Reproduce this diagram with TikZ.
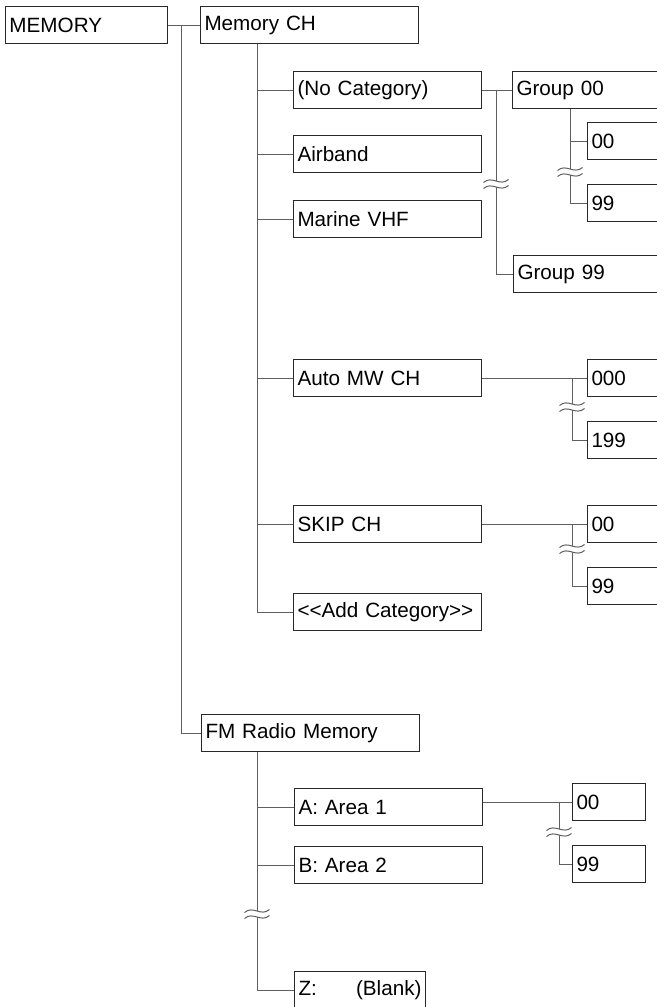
\documentclass[tikz,border=0pt]{standalone}
\usepackage{fontspec}
\setmainfont{Liberation Sans}
\usepackage{xcolor}
\usepackage{tikz}

\definecolor{boxline}{RGB}{40,40,40}
\definecolor{wireline}{RGB}{95,95,95}

% break mark on a vertical line
\newcommand{\cutmark}[1]{%
  \begin{scope}[shift={#1}]
    \fill[white] (-12.5,-1.5) .. controls (-4,-9) and (4,3) .. (12.5,-4.5) -- (12.5,1.5) .. controls (4,9) and (-4,-3) .. (-12.5,4.5) -- cycle;
    \draw[wire] (-12.5,-1.5) .. controls (-4,-9) and (4,3) .. (12.5,-4.5);
    \draw[wire] (-12.5,4.5) .. controls (-4,-3) and (4,9) .. (12.5,1.5);
  \end{scope}}

\begin{document}
\begin{tikzpicture}[x=0.75pt,y=0.75pt,yscale=-1,xscale=1,
    menubox/.style={draw=boxline, line width=0.75pt, anchor=north west, minimum height=27.75pt,
      inner xsep=3pt, inner ysep=0pt, align=left, font=\fontsize{15.5}{18}\selectfont},
    rootbox/.style={menubox, text width=115.5pt},
    headbox/.style={menubox, text width=157.5pt},
    catbox/.style={menubox, text width=135pt},
    grpbox/.style={menubox, text width=129pt},
    chbox/.style={menubox, text width=69pt},
    smallbox/.style={menubox, text width=48.75pt},
    blankbox/.style={menubox, text width=92.25pt},
    wire/.style={draw=wireline, line width=0.75pt}]
\useasboundingbox (0,0) rectangle (657,1007);
\clip (0,0) rectangle (657,1007);

% Text Node
\node[rootbox] (memory) at (5,6) {MEMORY};
\node[headbox] (memch) at (200,6) {Memory CH};
% Text Node
\node[catbox] (nocat) at (293,71) {(No Category)};
\node[catbox] (airband) at (293,135) {Airband};
\node[catbox] (marine) at (293,200) {Marine VHF};
\node[catbox] (automw) at (293,359) {Auto MW CH};
\node[catbox] (skip) at (293,505) {SKIP CH};
\node[catbox] (addcat) at (293,593) {<{}<Add Category>{}>};
% Text Node
\node[grpbox] (grp00) at (512,71) {Group 00};
\node[grpbox] (grp99) at (513,255) {Group 99};
\node[chbox] (g00) at (587,122) {00};
\node[chbox] (g99) at (587,184) {99};
\node[chbox] (mw000) at (587,359) {000};
\node[chbox] (mw199) at (587,421) {199};
\node[chbox] (sk00) at (587,505) {00};
\node[chbox] (sk99) at (587,567) {99};
% Text Node
\node[headbox] (fmradio) at (201,714) {FM Radio Memory};
\node[catbox] (areaa) at (294,788) {A: Area 1};
\node[catbox] (areab) at (294,846) {B: Area 2};
\node[blankbox] (areaz) at (294,971) {Z:\hfill(Blank)};
\node[smallbox] (fa00) at (572,783) {00};
\node[smallbox] (fa99) at (572,845) {99};

% trunk positions
\coordinate (tmem) at (181,0);
\coordinate (tch) at (257,0);
\coordinate (tgrp) at (496,0);
\coordinate (tg) at (570,0);
\coordinate (tmw) at (572,0);
\coordinate (tfm) at (257,0);
\coordinate (tfa) at (559,0);

%Straight Lines
\draw[wire] (memory.east) -- (memch.west);
\draw[wire] (memory.east -| tmem) |- (fmradio.west);
\draw[wire] (memch.south -| tch) |- (addcat.west);
\foreach \n in {nocat,airband,marine,automw,skip}
  \draw[wire] (tch |- \n.west) -- (\n.west);
%Straight Lines
\draw[wire] (nocat.east) -- (grp00.west);
\draw[wire] (nocat.east -| tgrp) |- (grp99.west);
\draw[wire] (grp00.south -| tg) |- (g99.west);
\draw[wire] (tg |- g00.west) -- (g00.west);
%Straight Lines
\draw[wire] (automw.east) -- (mw000.west);
\draw[wire] (automw.east -| tmw) |- (mw199.west);
\draw[wire] (skip.east) -- (sk00.west);
\draw[wire] (skip.east -| tmw) |- (sk99.west);
%Straight Lines
\draw[wire] (fmradio.south -| tfm) |- (areaz.west);
\draw[wire] (tfm |- areaa.west) -- (areaa.west);
\draw[wire] (tfm |- areab.west) -- (areab.west);
\draw[wire] (fa00.west -| areaa.east) -- (fa00.west);
\draw[wire] (fa00.west -| tfa) |- (fa99.west);

% break marks
\cutmark{(496,184)}
\cutmark{(570,172)}
\cutmark{(572,407)}
\cutmark{(572,549)}
\cutmark{(257,914)}
\cutmark{(559,832)}

\end{tikzpicture}
\end{document}
